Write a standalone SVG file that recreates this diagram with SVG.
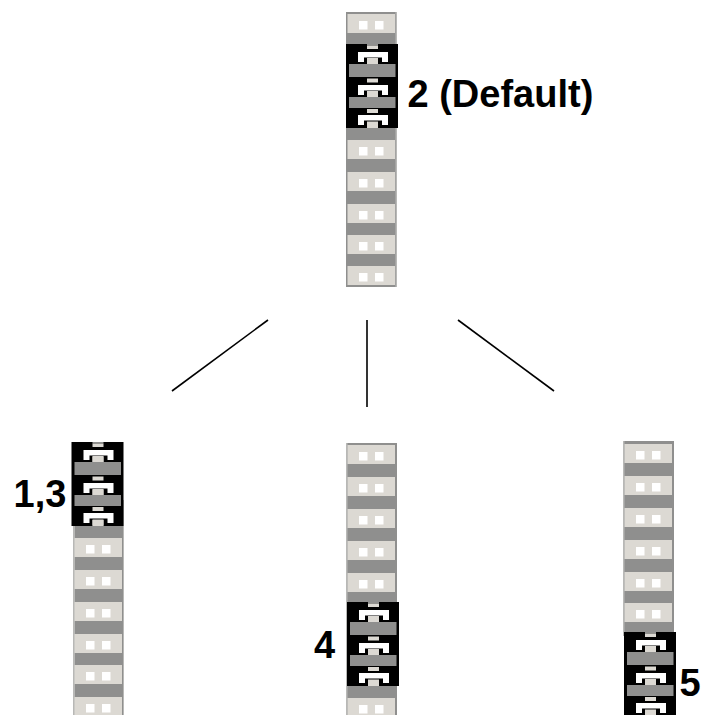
<svg xmlns="http://www.w3.org/2000/svg" xmlns:xlink="http://www.w3.org/1999/xlink" width="701" height="715" viewBox="0 0 701 715">
<style>
.strip{fill:#8f8f8e}
.edge{fill:#b8b8b6}
.cream{fill:#dcd9d3}
.win{fill:#fff}
.blk{fill:#000}
.clip{fill:#fff}
.lbl{font:bold 38px "Liberation Sans",Arial,sans-serif;fill:#000}
.conn{stroke:#000;stroke-width:1.6;fill:none}
</style>
<defs>
<g id="cell"><rect class="cream" x="1.500" y="0" width="47.500" height="19"/><rect class="win" x="13" y="7" width="8.500" height="8.500"/><rect class="win" x="29" y="7" width="8.500" height="8.500"/></g>
<g id="clipA"><path class="clip" d="M12 0H42V10H36V5.500H18V10H12Z"/><rect class="cream" x="21" y="6.500" width="11" height="6"/></g>
<g id="block"><rect class="blk" x="0" y="0" width="52" height="84"/>
<rect class="strip" x="21" y="0" width="11" height="1.500"/><rect class="cream" x="21" y="1.500" width="11" height="3.500"/><use xlink:href="#clipA" y="8"/>
<rect class="cream" x="21" y="14" width="11" height="6"/><rect class="strip" x="3" y="20" width="46.500" height="13"/>
<rect class="cream" x="21" y="34.500" width="11" height="4"/><use xlink:href="#clipA" y="41"/>
<rect class="cream" x="21" y="47" width="11" height="6"/><rect class="strip" x="3" y="53" width="46.500" height="11"/>
<rect class="cream" x="21" y="65" width="11" height="4"/><use xlink:href="#clipA" y="71"/>
<rect class="cream" x="21" y="78" width="11" height="6"/></g>
</defs>
<g id="connectors">
<line class="conn" x1="268" y1="320" x2="172" y2="391"/>
<line class="conn" x1="367" y1="320" x2="367" y2="407"/>
<line class="conn" x1="458" y1="320" x2="554" y2="391"/>
</g>
<g id="node-top" transform="translate(346,0)">
<rect class="strip" x="0" y="12" width="50" height="275"/><rect class="edge" x="49.500" y="12" width="1.500" height="275"/>
<use xlink:href="#cell" y="14"/><use xlink:href="#cell" y="140"/><use xlink:href="#cell" y="172"/><use xlink:href="#cell" y="204"/><use xlink:href="#cell" y="235"/><use xlink:href="#cell" y="266"/>
<use xlink:href="#block" y="44"/>
<text class="lbl" x="61.500" y="107">2 (Default)</text>
</g>
<g id="node-left" transform="translate(73,0)">
<rect class="edge" x="0" y="500" width="51" height="215"/><rect class="strip" x="2" y="500" width="48" height="215"/>
<use xlink:href="#cell" y="538"/><use xlink:href="#cell" y="570"/><use xlink:href="#cell" y="602"/><use xlink:href="#cell" y="634"/><use xlink:href="#cell" y="665"/><use xlink:href="#cell" y="697"/>
<use xlink:href="#block" x="-1.500" y="442"/>
<text class="lbl" x="-59.500" y="507">1,3</text>
</g>
<g id="node-center" transform="translate(346,0)">
<rect class="strip" x="0" y="443" width="51" height="272"/><rect class="edge" x="0" y="443" width="1.500" height="272"/>
<use xlink:href="#cell" y="445"/><use xlink:href="#cell" y="477"/><use xlink:href="#cell" y="509"/><use xlink:href="#cell" y="541"/><use xlink:href="#cell" y="573"/><use xlink:href="#cell" y="698"/>
<use xlink:href="#block" x="1" y="602"/>
<text class="lbl" x="-32" y="658">4</text>
</g>
<g id="node-right" transform="translate(623,0)">
<rect class="strip" x="0" y="441" width="51" height="195"/><rect class="edge" x="0" y="441" width="1.500" height="195"/>
<use xlink:href="#cell" y="444"/><use xlink:href="#cell" y="476"/><use xlink:href="#cell" y="508"/><use xlink:href="#cell" y="540"/><use xlink:href="#cell" y="572"/><use xlink:href="#cell" y="603"/>
<use xlink:href="#block" x="1" y="632"/>
<text class="lbl" x="56.500" y="696">5</text>
</g>
</svg>
